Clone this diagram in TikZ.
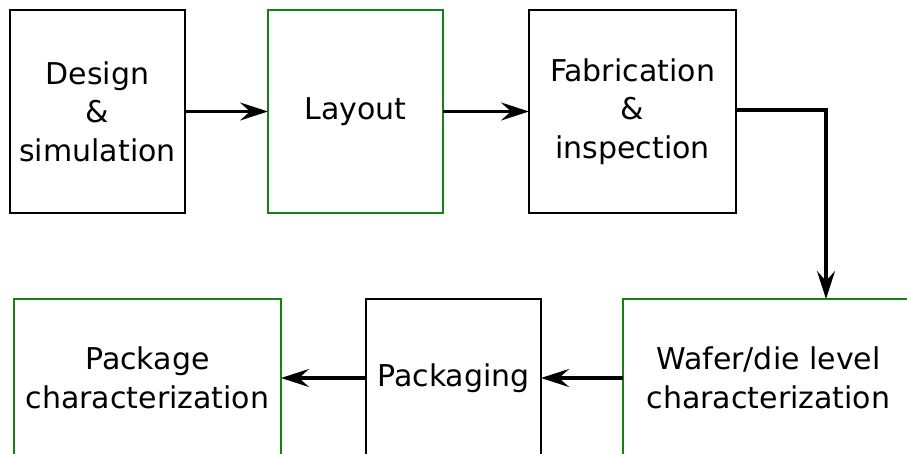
\documentclass[tikz,border=0pt]{standalone}
\usepackage{fontspec}
\setmainfont{DejaVu Sans}
\usepackage{tikz}
\usetikzlibrary{
    arrows.meta,
    positioning
}
\definecolor{stepgreen}{RGB}{20,130,20}

\begin{document}
\begin{tikzpicture}[
    x=1pt, y=-1pt,
    box/.style={
        draw,
        line width=2.2pt,
        align=center,
        inner sep=0pt,
        outer sep=0pt,
        minimum height=203pt,
        font=\fontsize{30}{38.5}\selectfont
    },
    lowbox/.style={box, minimum height=158pt},
    greenbox/.style={draw=stepgreen},
    flow/.style={
        draw,
        line width=3.2pt,
        -{Stealth[length=28pt, width=18pt, inset=10pt]}
    }
]
\path[use as bounding box, clip] (0,0) rectangle (907,454);

% top row
\node[box, minimum width=175pt] (design) at (97.5,111.5) {Design\\ \&\\ simulation};
\node[box, greenbox, minimum width=175pt, right=83pt of design] (layout) {Layout};
\node[box, minimum width=207pt, right=86pt of layout] (fab) {Fabrication\\ \&\\ inspection};

% bottom row
\node[lowbox, greenbox, minimum width=291pt] (wafer) at (768.5,378) {Wafer/die level\\ characterization};
\node[lowbox, minimum width=175pt, left=82pt of wafer] (pack) {Packaging};
\node[lowbox, greenbox, minimum width=267pt, left=85pt of pack] (pchar) {Package\\ characterization};

\coordinate (turn) at (826,110);

\draw[flow] (design) -- (layout);
\draw[flow] (layout) -- (fab);
\draw[flow] (fab.east |- turn) -- (turn) -- (turn |- wafer.north);
\draw[flow] (wafer) -- (pack);
\draw[flow] (pack) -- (pchar);

\end{tikzpicture}
\end{document}
